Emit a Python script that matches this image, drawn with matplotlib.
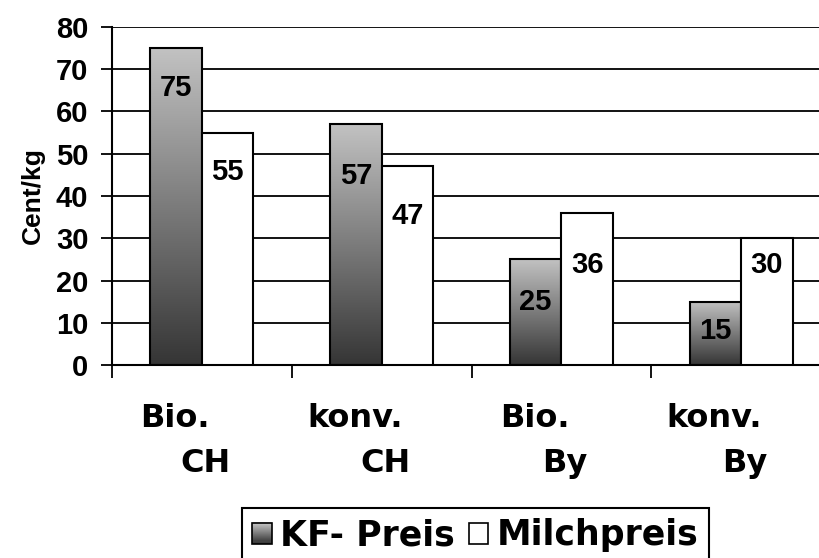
import numpy as np
import matplotlib.pyplot as plt
from matplotlib.colors import LinearSegmentedColormap
from matplotlib.patches import Rectangle
from matplotlib.legend_handler import HandlerBase

# data
cat_line1 = ["Bio.", "konv.", "Bio.", "konv."]
cat_line2 = ["CH", "CH", "By", "By"]
kf_preis = [75, 57, 25, 15]
milchpreis = [55, 47, 36, 30]
series = ["KF- Preis", "Milchpreis"]

# label distance below bar top (px), as placed in the original
kf_off = [40, 52, 43, 29]
mi_off = [39, 50, 52, 27]

DARK = "#353535"
LIGHT = "#c2c2c2"
cmap = LinearSegmentedColormap.from_list("kf", [DARK, LIGHT])


class GradientHandler(HandlerBase):
    def create_artists(self, legend, orig_handle, xdescent, ydescent,
                       width, height, fontsize, trans):
        arts = []
        n = 20
        for i in range(n):
            r = Rectangle((-xdescent, -ydescent + height * i / n), width, height / n + 0.3,
                          facecolor=cmap(i / (n - 1)), edgecolor="none", transform=trans)
            arts.append(r)
        arts.append(Rectangle((-xdescent, -ydescent), width, height, facecolor="none",
                              edgecolor="black", lw=1.2, transform=trans))
        return arts


fig = plt.figure(figsize=(8.19, 5.58), dpi=100)
ax = fig.add_axes([112 / 819, 193 / 558, 719 / 819, 338 / 558])

x = np.arange(len(kf_preis))
w = 0.287
kf_bars = ax.bar(x - w / 2, kf_preis, w, facecolor="none", edgecolor="black", lw=1.5, zorder=3)
mi_bars = ax.bar(x + w / 2, milchpreis, w, facecolor="white", edgecolor="black", lw=1.5, zorder=3)

grad = np.linspace(0, 1, 256).reshape(-1, 1)
for b in kf_bars:
    x0, y0 = b.get_x(), b.get_y()
    im = ax.imshow(grad, cmap=cmap, origin="lower", aspect="auto", interpolation="bilinear",
                   extent=[x0, x0 + b.get_width(), y0, y0 + b.get_height()], zorder=2.5)
    im.set_clip_path(b)

ax.set_xlim(-0.5, 3.5)
ax.set_ylim(0, 80)
ax.set_yticks(range(0, 81, 10))
ax.yaxis.grid(True, color="black", lw=1.3)
ax.set_axisbelow(True)
ax.set_xticks([-0.5, 0.5, 1.5, 2.5])
ax.set_xticklabels([])
ax.tick_params(axis="x", length=9, width=1.3, direction="out")
ax.tick_params(axis="y", length=8, width=1.3, pad=9, labelsize=21)
for lab in ax.get_yticklabels():
    lab.set_fontfamily("Liberation Sans")
    lab.set_fontweight("bold")
for s in ["top", "right"]:
    ax.spines[s].set_visible(False)
for s in ["left", "bottom"]:
    ax.spines[s].set_linewidth(1.5)

ax.set_ylabel("Cent/kg", fontsize=19, fontweight="bold", family="Liberation Sans", labelpad=8)

for bars, vals, offs in [(kf_bars, kf_preis, kf_off), (mi_bars, milchpreis, mi_off)]:
    for b, v, o in zip(bars, vals, offs):
        ax.annotate(str(v), (b.get_x() + b.get_width() / 2, v), xytext=(0, -o * 0.72),
                    textcoords="offset points", ha="center", va="center", fontsize=21,
                    fontweight="bold", family="Liberation Sans", zorder=5)

tr = ax.get_xaxis_transform()
for xi, l1, l2 in zip(x, cat_line1, cat_line2):
    ax.text(xi - 0.15, -0.1834, l1, transform=tr, ha="center", va="baseline",
            fontsize=23, fontweight="bold", family="DejaVu Sans")
    ax.text(xi + 0.02, -0.3166, l2, transform=tr, ha="center", va="baseline",
            fontsize=23, fontweight="bold", family="DejaVu Sans")

h_kf = Rectangle((0, 0), 1, 1)
h_mi = Rectangle((0, 0), 1, 1, facecolor="white", edgecolor="black", lw=1.2)
leg = fig.legend([h_kf, h_mi], series, handler_map={h_kf: GradientHandler()},
                 loc="upper left", bbox_to_anchor=(242 / 819, 1 - 508 / 558),
                 ncol=2, fancybox=False, edgecolor="black", framealpha=1,
                 borderaxespad=0, columnspacing=0.4, handletextpad=0.25,
                 handlelength=0.55, handleheight=0.55, borderpad=0.3,
                 prop={"family": "DejaVu Sans", "weight": "bold", "size": 25})
leg.get_frame().set_linewidth(1.5)

fig.savefig("out.png", dpi=100)
